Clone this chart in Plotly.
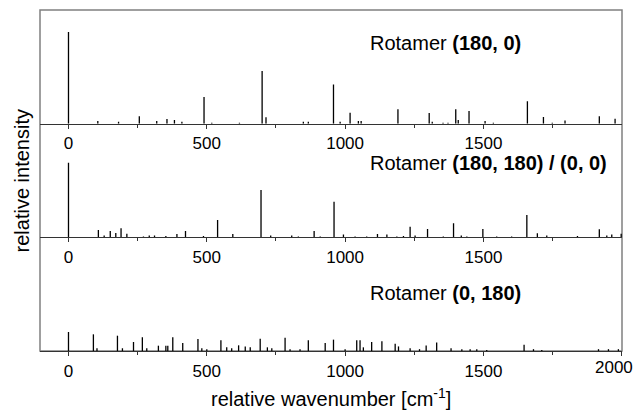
import plotly.graph_objects as go

# --- data: stick spectra (wavenumber, relative intensity; 100 = tallest peak of top panel)
top_pos = [0, 106, 181, 256, 319, 356, 383, 410, 490, 518, 618, 700, 714, 849, 867,
           958, 982, 1018, 1048, 1058, 1191, 1304, 1315, 1354, 1372, 1400, 1409, 1448,
           1506, 1536, 1659, 1717, 1749, 1795, 1919, 1976]
top_int = [100, 3, 2, 8, 3, 5, 4, 2, 29, 1, 1, 57.5, 7, 2, 2,
           42.7, 2, 12, 3, 3, 15.7, 11.7, 2, 1, 1, 15.7, 4, 13.9,
           3, 1, 24.4, 7.3, 1, 3.5, 8, 5.5]

mid_pos = [0, 108, 129, 151, 171, 190, 211, 271, 292, 311, 352, 392, 423, 488, 539, 594,
           696, 731, 807, 831, 888, 910, 960, 994, 1036, 1078, 1117, 1151, 1187, 1211,
           1235, 1253, 1298, 1355, 1392, 1420, 1440, 1498, 1548, 1602, 1657, 1695, 1729,
           1840, 1919, 1946, 1964, 1998]
mid_int = [81.4, 8, 2, 6.9, 4.7, 9.8, 4, 1, 2, 2, 1.5, 3.6, 6.9, 1.5, 18.9, 3.6,
           51.6, 2, 2, 1, 6.9, 1, 38.9, 3, 1, 1, 3.6, 3, 1, 1.5,
           11.6, 2, 9, 1, 15.3, 2, 1, 9, 1, 1, 24.4, 4.4, 2,
           1.5, 8.7, 2, 3, 4]

bot_pos = [0, 90, 103, 177, 195, 235, 267, 283, 325, 352, 359, 377, 413, 468, 482, 500,
           551, 572, 590, 615, 639, 657, 693, 719, 735, 783, 801, 837, 867, 928, 958,
           1000, 1042, 1054, 1066, 1096, 1133, 1181, 1193, 1235, 1269, 1293, 1331, 1383,
           1422, 1452, 1476, 1512, 1647, 1681, 1711, 1916, 1952, 1988]
bot_int = [20.7, 18.2, 3, 16.7, 3, 9.8, 14.9, 3, 5.8, 5.8, 5.8, 14.9, 8.7, 13, 3, 2,
           11.6, 4, 3, 6.2, 5, 4, 13.4, 4, 3, 14.5, 2, 2, 11.6, 8.7, 12.4,
           2, 11.6, 11.6, 4, 9.8, 10.5, 8, 5, 3, 2, 6, 9.4, 3,
           2, 2, 2, 1, 6.9, 2, 1, 2, 2, 2]

panel_names = ["Rotamer <b>(180, 0)</b>",
               "Rotamer <b>(180, 180) / (0, 0)</b>",
               "Rotamer <b>(0, 180)</b>"]
ticks_upper = [0, 500, 1000, 1500]
ticks_lower = [0, 500, 1000, 1500, 2000]
edge_label = 2000   # bottom-axis label at the right edge (drawn pulled inward)

FONT = "Liberation Sans, Arial, sans-serif"

def sticks(pos, inten):
    xs, ys = [], []
    for p, h in zip(pos, inten):
        xs += [p, p, None]
        ys += [0, h, None]
    return xs, ys

fig = go.Figure()
panels = [(top_pos, top_int), (mid_pos, mid_int), (bot_pos, bot_int)]
for i, (p, h) in enumerate(panels):
    xs, ys = sticks(p, h)
    fig.add_trace(go.Scatter(x=xs, y=ys, mode="lines",
                             line=dict(color="black", width=1.3),
                             xaxis=f"x{i+1}" if i else "x",
                             yaxis=f"y{i+1}" if i else "y",
                             showlegend=False, hoverinfo="skip"))

xr = [-103, 2001]
domains = [[2/3, 1], [1/3, 2/3], [0, 1/3]]
layout = dict(width=635, height=410, margin=dict(l=40, r=13, t=10, b=59),
              paper_bgcolor="white", plot_bgcolor="white",
              font=dict(family=FONT, color="black"), showlegend=False)
for i in range(3):
    xk = "xaxis" if i == 0 else f"xaxis{i+1}"
    yk = "yaxis" if i == 0 else f"yaxis{i+1}"
    tv = ticks_lower if i == 2 else ticks_upper
    tt = [("" if t == edge_label else str(t)) for t in tv]
    layout[xk] = dict(range=xr, domain=[0, 1], anchor="y" if i == 0 else f"y{i+1}",
                      tickvals=tv, ticktext=tt,
                      ticks="outside", ticklen=4, tickwidth=1, tickcolor="#333",
                      minor=dict(tickvals=[250, 750, 1250, 1750], ticks="outside",
                                 ticklen=3, tickcolor="#333"),
                      showline=True, linecolor="#333", linewidth=1.2,
                      showgrid=False, zeroline=False,
                      tickfont=dict(size=17, family=FONT, color="black"))
    layout[yk] = dict(range=[0, 124], domain=domains[i],
                      anchor="x" if i == 0 else f"x{i+1}",
                      showticklabels=False, ticks="", showgrid=False,
                      zeroline=False, showline=False)
fig.update_layout(**layout)

# frame
fig.add_shape(type="rect", xref="paper", yref="paper", x0=0, y0=0, x1=1, y1=1,
              line=dict(color="#808080", width=1.5), layer="below")

ann_y = [0.903, 0.550, 0.170]
for name, yy in zip(panel_names, ann_y):
    fig.add_annotation(text=name, xref="paper", yref="paper", x=0.5636, y=yy,
                       xanchor="left", yanchor="middle", showarrow=False,
                       font=dict(size=20, family=FONT, color="black"))

# right-edge tick label of bottom axis, pulled inward to fit the page
fig.add_annotation(text=str(edge_label), xref="x3", yref="paper", x=edge_label, y=0,
                   xshift=-8, yshift=-16, xanchor="center", yanchor="middle",
                   showarrow=False, font=dict(size=17, family=FONT, color="black"))

fig.add_annotation(text="relative intensity", xref="paper", yref="paper",
                   x=-0.031, y=0.5, textangle=-90, showarrow=False,
                   xanchor="center", yanchor="middle",
                   font=dict(size=20, family=FONT, color="black"))
fig.add_annotation(text="relative wavenumber [cm<sup>-1</sup>]", xref="paper",
                   yref="paper", x=0.5, y=-0.135, showarrow=False,
                   xanchor="center", yanchor="middle",
                   font=dict(size=20, family=FONT, color="black"))

fig.write_html("out.html")
